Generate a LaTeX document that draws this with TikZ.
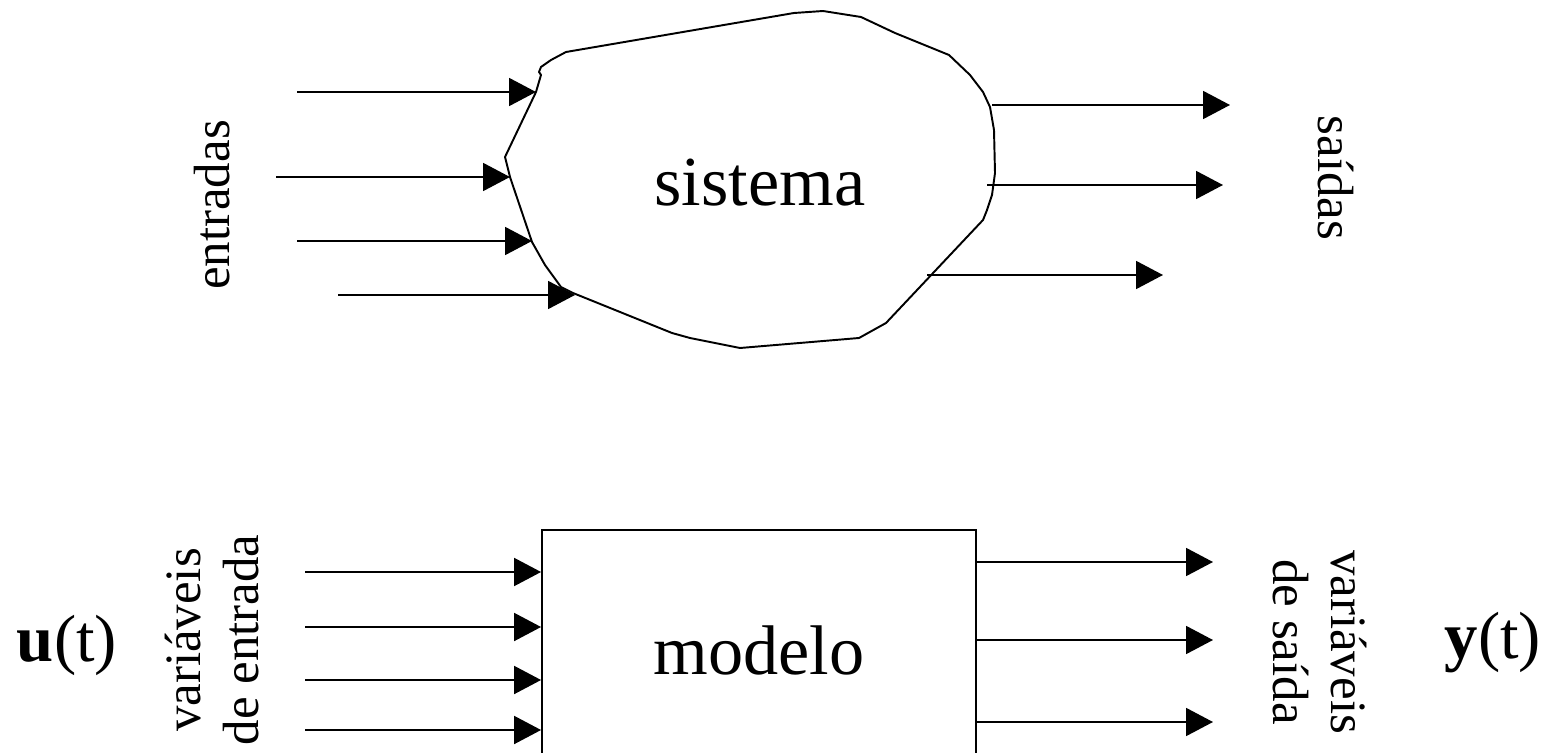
\documentclass[tikz,border=0pt]{standalone}
\usepackage{fontspec}
\setmainfont{Liberation Serif}
\usetikzlibrary{arrows.meta,positioning}

\tikzstyle{arrow} = [line width=1.1pt, -{Triangle[length=0.54cm,width=0.56cm]}]
\tikzstyle{outline} = [line width=1.1pt, line join=round]
\tikzstyle{block} = [rectangle, draw=black, line width=1.1pt, minimum width=8.68cm, minimum height=5.4cm]
\tikzstyle{title} = [font=\fontsize{40}{48}\selectfont]
\tikzstyle{side} = [font=\fontsize{29}{33}\selectfont, align=center]
\tikzstyle{signal} = [font=\fontsize{38}{45}\selectfont]

\begin{document}
\begin{tikzpicture}[x=0.02cm, y=-0.02cm]
\clip (0,0) rectangle (1552,753);

% the real system, an irregular outline
\draw[outline] (539,72) -- (541,67) -- (551,60) -- (566,52) -- (794,13) -- (823,11)
  -- (861,17) -- (895,33) -- (949,55) -- (970,75) -- (983,92) -- (990,107)
  -- (994,130) -- (995,173) -- (992,195) -- (987,210) -- (983,220) -- (886,323)
  -- (859,338) -- (740,348) -- (690,338) -- (672,333) -- (573,293) -- (561,287)
  -- (545,265) -- (532,242) -- (510,177) -- (505,157) -- (536,92) -- (541,75) -- cycle;
\node (sistema) [title] at (760,183) {sistema};

% points where the signals meet the outline
\coordinate (e1) at (536,92);
\coordinate (e2) at (510,177);
\coordinate (e3) at (532,241);
\coordinate (e4) at (575,295);
\coordinate (s1) at (992,105);
\coordinate (s2) at (987,185);
\coordinate (s3) at (927,275);

\coordinate (in1) at (297,92);
\coordinate (in2) at (276,177);
\coordinate (in3) at (297,241);
\coordinate (in4) at (338,295);
\coordinate (out1) at (1230,105);
\coordinate (out2) at (1223,185);
\coordinate (out3) at (1163,275);

\draw [arrow] (in1) -- (e1);
\draw [arrow] (in2) -- (e2);
\draw [arrow] (in3) -- (e3);
\draw [arrow] (in4) -- (e4);
\draw [arrow] (s1) -- (out1);
\draw [arrow] (s2) -- (out2);
\draw [arrow] (s3) -- (out3);

\node (entradas) [side, rotate=90] at (212,205) {entradas};
\node (saidas) [side, rotate=-90] at (1336,178) {saídas};

% the model as a block
\node (modelo) [block] at (759,665) {};
\node (modelotxt) [title] at (759,650) {modelo};

\coordinate (u1) at (305,572);
\coordinate (u2) at (305,627);
\coordinate (u3) at (305,680);
\coordinate (u4) at (305,730);
\coordinate (y1) at (1213,562);
\coordinate (y2) at (1213,640);
\coordinate (y3) at (1213,722);

\draw [arrow] (u1) -- (u1 -| modelo.west);
\draw [arrow] (u2) -- (u2 -| modelo.west);
\draw [arrow] (u3) -- (u3 -| modelo.west);
\draw [arrow] (u4) -- (u4 -| modelo.west);
\draw [arrow] (y1 -| modelo.east) -- (y1);
\draw [arrow] (y2 -| modelo.east) -- (y2);
\draw [arrow] (y3 -| modelo.east) -- (y3);

\node (varin) [side, rotate=90] at (212,640) {variáveis\\de entrada};
\node (varout) [side, rotate=-90] at (1320,642) {variáveis\\de saída};
\node (ut) [signal] at (67,645) {\textbf{u}(t)};
\node (yt) [signal] at (1493,643) {\textbf{y}(t)};

\end{tikzpicture}
\end{document}
